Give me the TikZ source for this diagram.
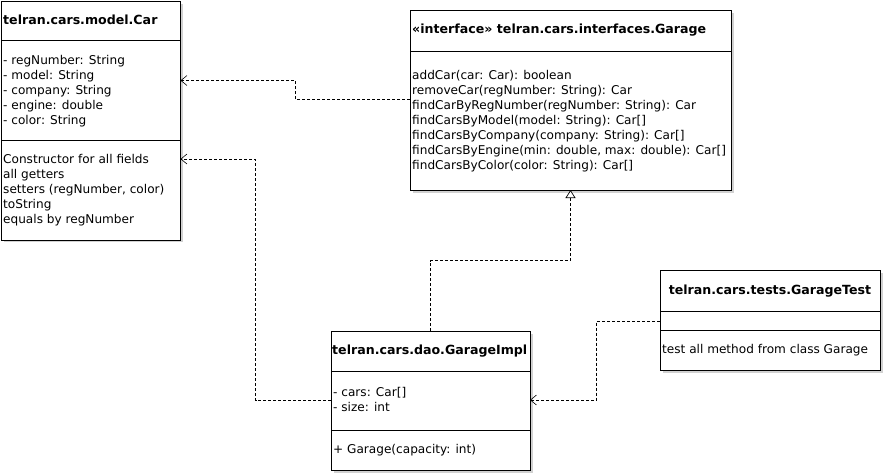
\documentclass[tikz,border=0pt]{standalone}
\usepackage{fontspec}
\setmainfont{DejaVu Sans}
\usetikzlibrary{arrows.meta}
\tikzset{
  box/.style={draw=black, line width=0.9pt, fill=white, anchor=north west, inner sep=0pt, outer sep=0pt},
  divider/.style={line width=0.9pt},
  ttl/.style={font=\fontsize{12.6}{15}\selectfont\bfseries, inner sep=0pt, anchor=base west},
  txt/.style={font=\fontsize{12.1}{15}\selectfont, inner sep=0pt, anchor=north west, align=left},
  dep/.style={line width=0.7pt, dash pattern=on 3pt off 2pt, -{Straight Barb[length=6pt,width=10pt,line width=0.6pt]}},
  real/.style={line width=0.7pt, dash pattern=on 3pt off 2pt, -{Triangle[open, length=8pt, width=10pt, line width=0.7pt, fill=white]}},
}
\begin{document}
\begin{tikzpicture}[x=1pt, y=-1pt]
\useasboundingbox (0,0) rectangle (885,475);
\fill[white] (0,0) rectangle (885,475);

% shadows
\fill[black!18] (4,4) rectangle (183,242);
\fill[black!18] (413,13) rectangle (734,193);
\fill[black!18] (334,334) rectangle (533,473);
\fill[black!18] (663,273) rectangle (883,373);

% Car
\node[box, minimum width=179pt, minimum height=239pt] (car) at (1,1) {};
\draw[divider] (1,40.5) -- (180,40.5);
\draw[divider] (1,140) -- (180,140);
\node[ttl] (cart) at (3,24.5) {telran.cars.model.Car};
\node[txt] (cara) at (3,54) {\strut- regNumber: String\\- model: String\\- company: String\\- engine: double\\- color: String};
\node[txt] (carm) at (3,153) {\strut Constructor for all fields\\all getters\\setters (regNumber, color)\\toString\\equals by regNumber};
\coordinate (carA) at (180.5,80.5);
\coordinate (carM) at (180.5,159);

% Garage interface
\node[box, minimum width=321pt, minimum height=180pt] (gar) at (410,10) {};
\draw[divider] (410,51) -- (731,51);
\node[ttl] (gart) at (412,33.5) {«interface» telran.cars.interfaces.Garage};
\node[txt] (garm) at (412,69) {\strut addCar(car: Car): boolean\\removeCar(regNumber: String): Car\\findCarByRegNumber(regNumber: String): Car\\findCarsByModel(model: String): Car[]\\findCarsByCompany(company: String): Car[]\\findCarsByEngine(min: double, max: double): Car[]\\findCarsByColor(color: String): Car[]};

% GarageImpl
\node[box, minimum width=199pt, minimum height=139pt] (impl) at (331,331) {};
\draw[divider] (331,371) -- (530,371);
\draw[divider] (331,430) -- (530,430);
\node[ttl] (implt) at (332,354.5) {telran.cars.dao.GarageImpl};
\node[txt] (impla) at (333,386) {\strut- cars: Car[]\\- size: int};
\node[txt] (implm) at (333,443) {\strut+ Garage(capacity: int)};

% GarageTest
\node[box, minimum width=220pt, minimum height=100pt] (test) at (660,270) {};
\draw[divider] (660,311) -- (880,311);
\draw[divider] (660,330) -- (880,330);
\node[ttl, anchor=base] (testt) at (770,294.5) {telran.cars.tests.GarageTest};
\node[txt] (testm) at (662,343) {\strut test all method from class Garage};

% connectors
\draw[dep] (gar.west |- 0,99.5) -- (295.5,99.5) -- (295.5,80.5) -- (carA);
\draw[dep] (impl.west |- 0,400) -- (255.5,400) -- (255.5,159) -- (carM);
\draw[real] (430.5,331) -- (430.5,260.5) -- (570.5,260.5) -- (570.5,190);
\draw[dep] (test.west |- 0,321) -- (596.5,321) -- (596.5,400) -- (impl.east |- 0,400);
\end{tikzpicture}
\end{document}
